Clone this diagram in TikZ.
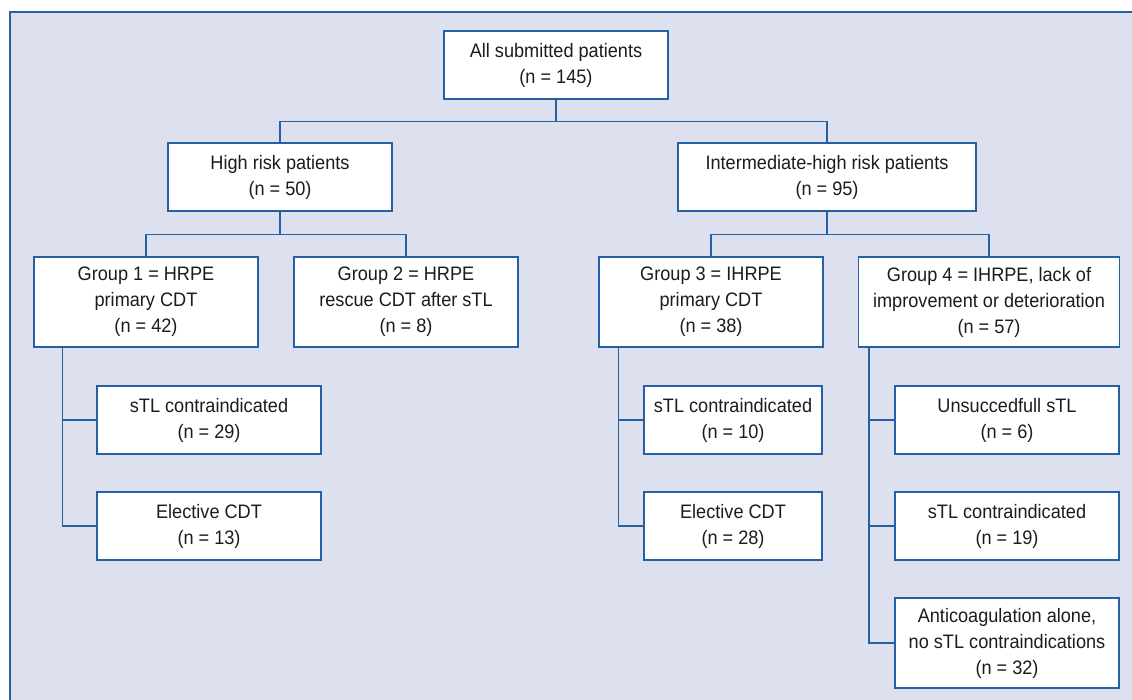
\documentclass[tikz,border=0pt]{standalone}
\usepackage{fontspec}
\setmainfont{Liberation Sans}[FakeStretch=0.93]
\usetikzlibrary{positioning}
\definecolor{frameblue}{HTML}{2660A4}
\definecolor{panel}{HTML}{DCE0EF}
\definecolor{ink}{HTML}{1E1B1C}

\begin{document}
\begin{tikzpicture}[
  x=1pt, y=1pt,
  box/.style={draw=frameblue, line width=1.5pt, fill=white, align=center,
              font=\fontsize{19.5}{26}\selectfont, text=ink,
              minimum width=#1, minimum height=68pt, inner sep=2pt},
  box/.default=224pt,
  tall/.style={minimum height=90pt},
  link/.style={draw=frameblue, line width=1.5pt}]
\useasboundingbox (0,0) rectangle (1132,-700);
\fill[panel] (9.5,-12) rectangle (1132,-700);
\draw[frameblue, line width=2pt] (1132,-12) -- (9.5,-12) -- (9.5,-700);
% tree
\node[box] (all) at (556,-65) {All submitted patients\\(n = 145)};
\node[box, below=42.5pt of all, xshift=-276pt] (high) {High risk patients\\(n = 50)};
\node[box=298pt, below=42.5pt of all, xshift=271pt] (inter) {Intermediate-high risk patients\\(n = 95)};
\node[box, tall, below=44.5pt of high, xshift=-134pt] (g1) {Group 1 = HRPE\\primary CDT\\(n = 42)};
\node[box, tall, below=44.5pt of high, xshift=126pt] (g2) {Group 2 = HRPE\\rescue CDT after sTL\\(n = 8)};
\node[box, tall, below=44.5pt of inter, xshift=-116pt] (g3) {Group 3 = IHRPE\\primary CDT\\(n = 38)};
\node[box=261pt, tall, below=44.5pt of inter, xshift=162pt] (g4) {Group 4 = IHRPE, lack of\\improvement or deterioration\\(n = 57)};
% subgroups
\node[box, below=37.5pt of g1, xshift=63pt] (g1contra) {sTL contraindicated\\(n = 29)};
\node[box, below=36.5pt of g1contra] (g1elect) {Elective CDT\\(n = 13)};
\node[box=178pt, below=37.5pt of g3, xshift=22pt] (g3contra) {sTL contraindicated\\(n = 10)};
\node[box=178pt, below=36.5pt of g3contra] (g3elect) {Elective CDT\\(n = 28)};
\node[box, below=37.5pt of g4, xshift=18pt] (g4fail) {Unsuccedfull sTL\\(n = 6)};
\node[box, below=36.5pt of g4fail] (g4contra) {sTL contraindicated\\(n = 19)};
\node[box, tall, below=36.5pt of g4contra] (g4anti) {Anticoagulation alone,\\no sTL contraindications\\(n = 32)};
% connectors
\draw[link] (all.south) -- ++(0,-22) -| (high);
\draw[link] (all.south) -- ++(0,-22) -| (inter);
\draw[link] (high.south) -- ++(0,-23) -| (g1);
\draw[link] (high.south) -- ++(0,-23) -| (g2);
\draw[link] (inter.south) -- ++(0,-23) -| (g3);
\draw[link] (inter.south) -- ++(0,-23) -| (g4);
\draw[link] ([xshift=29pt]g1.south west) |- (g1contra);
\draw[link] ([xshift=29pt]g1.south west) |- (g1elect);
\draw[link] ([xshift=20pt]g3.south west) |- (g3contra);
\draw[link] ([xshift=20pt]g3.south west) |- (g3elect);
\draw[link] ([xshift=11pt]g4.south west) |- (g4fail);
\draw[link] ([xshift=11pt]g4.south west) |- (g4contra);
\draw[link] ([xshift=11pt]g4.south west) |- (g4anti);
\end{tikzpicture}
\end{document}
